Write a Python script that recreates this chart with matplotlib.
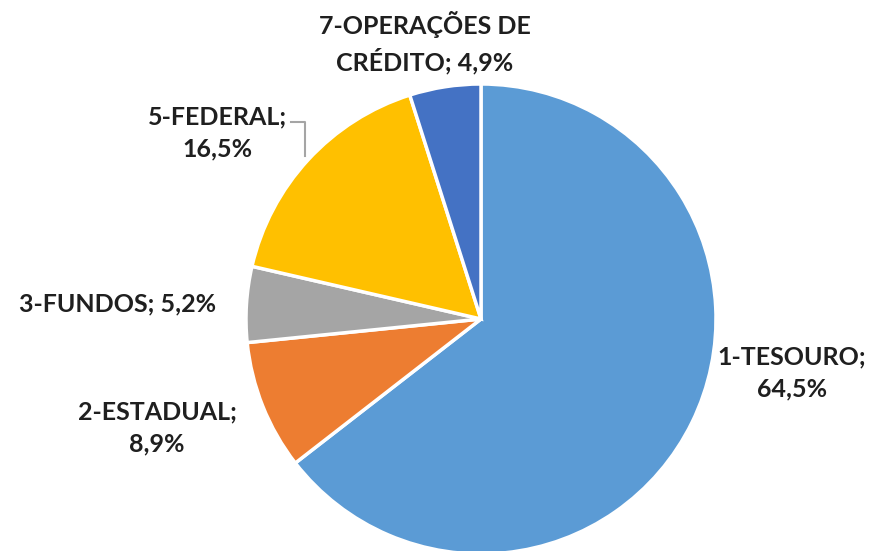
import matplotlib
matplotlib.use("Agg")
from matplotlib import pyplot as plt

categories = ["1-TESOURO", "2-ESTADUAL", "3-FUNDOS", "5-FEDERAL", "7-OPERAÇÕES DE CRÉDITO"]
values = [64.5, 8.9, 5.2, 16.5, 4.9]
colors = ["#5B9BD5", "#ED7D31", "#A5A5A5", "#FFC000", "#4472C4"]
label_texts = ["1-TESOURO;\n64,5%", "2-ESTADUAL;\n8,9%", "3-FUNDOS; 5,2%",
               "5-FEDERAL;\n16,5%", "7-OPERAÇÕES DE\nCRÉDITO; 4,9%"]

W, H = 877, 551
cx, cy, R = 481, 319, 235

def px(x, y):
    # pixel position -> data coords (pie radius = 1)
    return (x - cx) / R, (cy - y) / R

# label centres in pixels
label_pos = [(792, 373), (157, 428), (118, 304), (217, 133), (425, 43)]

fig = plt.figure(figsize=(W / 100, H / 100), dpi=100)
ax = fig.add_axes([0, 0, 1, 1])

ax.pie(values, colors=colors, startangle=90, counterclock=False, radius=1,
       wedgeprops=dict(edgecolor="white", linewidth=2.5))

# pie() resets the limits, so set them afterwards
ax.set_xlim(-cx / R, (W - cx) / R)
ax.set_ylim(-(H - cy) / R, cy / R)
ax.set_aspect("equal")
ax.axis("off")

for txt, (lx, ly) in zip(label_texts, label_pos):
    x, y = px(lx, ly)
    ax.text(x, y, txt, ha="center", va="center", fontsize=18, fontweight="bold",
            family="Lato", color="#1f1f1f", linespacing=1.45)

# leader line for FEDERAL
p1 = px(291, 122); p2 = px(305, 122); p3 = px(305, 156)
ax.plot([p1[0], p2[0], p3[0]], [p1[1], p2[1], p3[1]], color="#A5A5A5", lw=1.5)

fig.savefig("out.png", dpi=100)
